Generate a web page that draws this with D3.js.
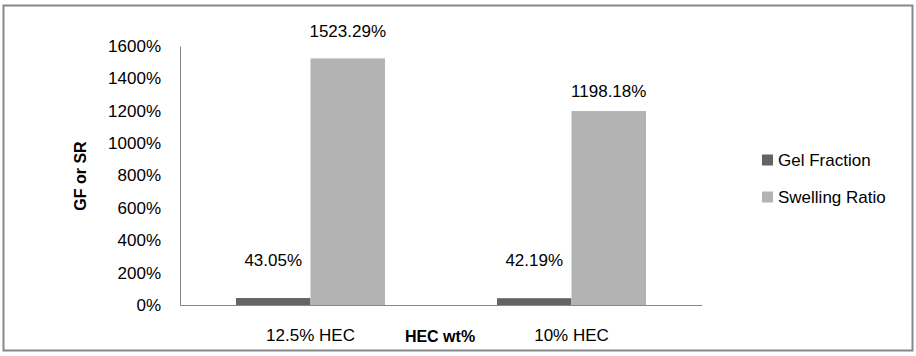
<!DOCTYPE html>
<html><head><meta charset="utf-8">
<script src="https://cdn.jsdelivr.net/npm/d3@7"></script>
<style>body{margin:0;background:#fff}svg{display:block}text{font-family:"Liberation Sans",Arial,sans-serif}</style>
</head><body><svg id="c" width="916" height="356"></svg>
<script>
const categories = ["12.5% HEC", "10% HEC"];
const seriesNames = ["Gel Fraction", "Swelling Ratio"];
const gelFraction = [43.05, 42.19];
const swellingRatio = [1523.29, 1198.18];
const yTicks = [0, 200, 400, 600, 800, 1000, 1200, 1400, 1600];
const colors = ["#646464", "#b3b3b3"];
// label vertical offsets (px above bar top), per category per series
const labelOffsets = [[32, 21], [32, 14]];

(function () {
const svg = d3.select("#c");
svg.append("rect").attr("x", 3.5).attr("y", 5.5).attr("width", 909).attr("height", 345)
  .attr("fill", "#fff").attr("stroke", "#878787").attr("stroke-width", 2);

const mLeft = 180, mRight = 702, mTop = 46, mBottom = 305;
const x0 = d3.scaleBand().domain(categories).range([mLeft, mRight]).paddingInner(0).paddingOuter(0);
const x1 = d3.scaleBand().domain(seriesNames).range([0, 149]);
const y = d3.scaleLinear().domain([0, 1600]).range([mBottom, mTop]);

const values = categories.map((c, i) => [gelFraction[i], swellingRatio[i]]);

// y axis
const ya = svg.append("g").attr("transform", `translate(${mLeft},0)`)
  .call(d3.axisLeft(y).tickValues(yTicks).tickFormat(d => d + "%").tickSize(0).tickPadding(19));
ya.select(".domain").attr("stroke", "#888").attr("stroke-width", 1);
ya.selectAll("text").attr("font-size", 17).attr("fill", "#000");

// bars
const groups = svg.selectAll("g.grp").data(categories).join("g").attr("class", "grp")
  .attr("transform", c => `translate(${x0(c) + (x0.bandwidth() - 149) / 2},0)`);
groups.each(function(c, i) {
  const g = d3.select(this);
  seriesNames.forEach((s, j) => {
    const v = values[i][j];
    g.append("rect").attr("x", x1(s)).attr("width", x1.bandwidth())
      .attr("y", y(v)).attr("height", y(0) - y(v)).attr("fill", colors[j]);
    g.append("text").attr("x", x1(s) + x1.bandwidth() / 2).attr("y", y(v) - labelOffsets[i][j])
      .attr("text-anchor", "middle").attr("font-size", 17).attr("fill", "#000")
      .text(v.toFixed(2) + "%");
  });
});

// x axis
const xa = svg.append("g").attr("transform", `translate(0,${mBottom})`)
  .call(d3.axisBottom(x0).tickSize(0).tickPadding(24));
xa.select(".domain").attr("stroke", "#888").attr("stroke-width", 1);
xa.selectAll("text").attr("font-size", 17).attr("fill", "#000");

// axis titles
svg.append("text").attr("x", 440).attr("y", 342).attr("text-anchor", "middle")
  .attr("font-size", 16).attr("font-weight", "bold").text("HEC wt%");
svg.append("text").attr("transform", "translate(86,176) rotate(-90)").attr("text-anchor", "middle")
  .attr("font-size", 16).attr("font-weight", "bold").text("GF or SR");

// legend
const lg = svg.append("g");
seriesNames.forEach((s, j) => {
  const cy = 160 + j * 37;
  lg.append("rect").attr("x", 762).attr("y", cy - 5.5).attr("width", 11).attr("height", 11).attr("fill", colors[j]);
  lg.append("text").attr("x", 778).attr("y", cy + 6).attr("font-size", 17).attr("fill", "#000").text(s);
});
})();
</script></body></html>
